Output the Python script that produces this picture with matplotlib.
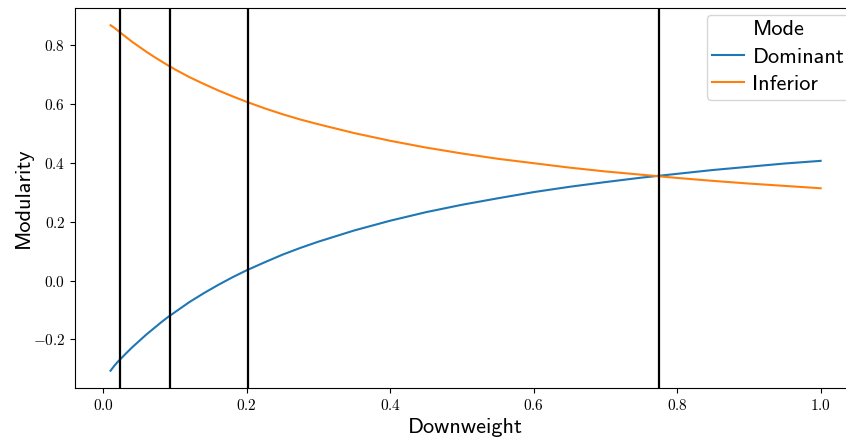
import matplotlib
matplotlib.use("Agg")
import matplotlib.pyplot as plt
from matplotlib.ticker import FuncFormatter

# Downweight values at which modularity was evaluated
downweight = [0.01, 0.015, 0.02, 0.03, 0.04, 0.05, 0.06, 0.07, 0.08, 0.09,
              0.10, 0.12, 0.14, 0.16, 0.18, 0.20, 0.225, 0.25, 0.275, 0.30,
              0.35, 0.40, 0.45, 0.50, 0.55, 0.60, 0.65, 0.70, 0.75, 0.80,
              0.85, 0.90, 0.95, 1.00]

# Modularity of the dominant mode
dominant = [-0.306, -0.290, -0.276, -0.251, -0.227, -0.205, -0.183, -0.163,
            -0.143, -0.124, -0.107, -0.073, -0.043, -0.015, 0.011, 0.035,
            0.062, 0.088, 0.111, 0.132, 0.170, 0.203, 0.232, 0.257, 0.279,
            0.300, 0.318, 0.334, 0.349, 0.362, 0.375, 0.386, 0.397, 0.406]

# Modularity of the inferior mode
inferior = [0.866, 0.858, 0.848, 0.829, 0.810, 0.793, 0.776, 0.760, 0.745,
            0.730, 0.716, 0.690, 0.667, 0.645, 0.625, 0.606, 0.584, 0.564,
            0.546, 0.530, 0.500, 0.474, 0.451, 0.431, 0.413, 0.398, 0.383,
            0.370, 0.359, 0.348, 0.338, 0.329, 0.321, 0.313]

# Downweights marked with vertical reference lines
thresholds = [0.023, 0.093, 0.202, 0.774]

plt.rcParams["mathtext.fontset"] = "cm"

fig = plt.figure(figsize=(8.46, 4.41), dpi=100)
# the axes run slightly past the right edge of the canvas
ax = fig.add_axes([0.0887, 0.1202, 0.9233, 0.8617])
ax.spines["right"].set_visible(False)

ax.plot(downweight, dominant, color="#1f77b4", lw=1.5, label="Dominant")
ax.plot(downweight, inferior, color="#ff7f0e", lw=1.5, label="Inferior")
for t in thresholds:
    ax.axvline(t, color="black", lw=1.6)

fmt = FuncFormatter(lambda v, pos: rf"${v:.1f}$")
ax.xaxis.set_major_formatter(fmt)
ax.yaxis.set_major_formatter(fmt)
ax.tick_params(labelsize=11)

ax.set_xlabel("Downweight", family="cmss10", fontsize=16)
ax.set_ylabel("Modularity", family="cmss10", fontsize=16, labelpad=0)

leg = ax.legend(title="Mode", loc="upper right",
                bbox_to_anchor=(0.992, 0.982), borderaxespad=0,
                prop={"family": "cmss10", "size": 16},
                handlelength=1.4, handletextpad=0.4, labelspacing=0.35,
                borderpad=0.25)
leg.get_title().set_fontfamily("cmss10")
leg.get_title().set_fontsize(16)

fig.savefig("out.png", dpi=100)
